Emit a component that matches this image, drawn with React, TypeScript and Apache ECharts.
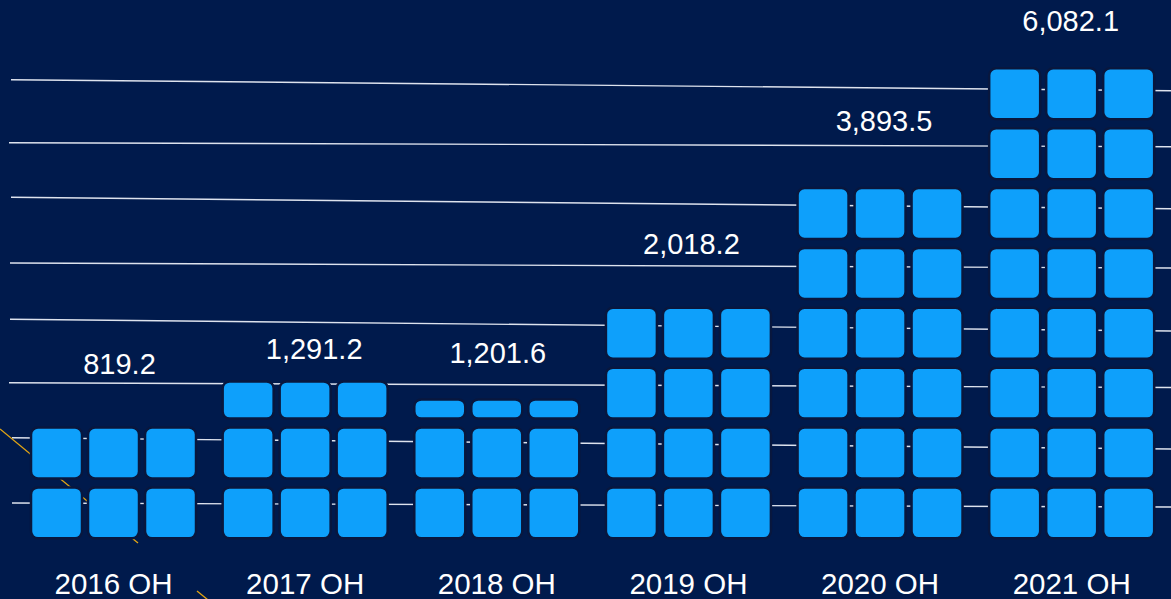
import React, { useEffect, useRef } from "react";
import * as echarts from "echarts";

const categories = ["2016 OH", "2017 OH", "2018 OH", "2019 OH", "2020 OH", "2021 OH"];
const totals = [819.2, 1291.2, 1201.6, 2018.2, 3893.5, 6082.1];
// stacked height of each column of tiles, in tile units
const tileHeights = [2, 2.77, 2.47, 4, 6, 8];

// label placement tweaks (px) relative to the top of each stack
const labelLift = [64, 32, 46, 64, 67, 47];
const labelShiftX = [6, 9, 1, 3, 4, -1];

const BG = "#001A4C";
const TILE = "#0EA0FB";
const TILE_EDGE = "#08173E";
const FONT = "'Liberation Sans', Arial, sans-serif";

const bgLines: number[][] = [
  [11, 79.7, 1171, 90.7],
  [9, 142.7, 1171, 146.7],
  [11, 197.3, 1171, 208.7],
  [10, 263, 1171, 268],
  [10, 319.3, 1171, 331],
  [9, 382.7, 1171, 387.5],
  [12, 437.7, 1171, 449],
  [12, 503, 1171, 507],
];

export default function App() {
  const ref = useRef<HTMLDivElement>(null);
  useEffect(() => {
    if (!ref.current) return;
    const chart = echarts.init(ref.current, undefined, { renderer: "svg" });
    const fmt = (v: number) =>
      v.toLocaleString("en-US", { minimumFractionDigits: 1, maximumFractionDigits: 1 });

    const graphic: any[] = bgLines.map((l) => ({
      type: "line",
      z: 0,
      silent: true,
      shape: { x1: l[0], y1: l[1], x2: l[2], y2: l[3] },
      style: { stroke: "rgba(240,244,252,0.92)", lineWidth: 1.4 },
    }));
    graphic.push({
      type: "line",
      z: 0,
      silent: true,
      shape: { x1: 0, y1: 429, x2: 138, y2: 543 },
      style: { stroke: "#E2A514", lineWidth: 1.3 },
    });
    graphic.push({
      type: "line",
      z: 0,
      silent: true,
      shape: { x1: 197, y1: 591, x2: 213, y2: 604 },
      style: { stroke: "#E2A514", lineWidth: 1.3 },
    });

    chart.setOption({
      animation: false,
      backgroundColor: BG,
      graphic,
      grid: {
        left: 17.7,
        right: 3.5,
        top: 4,
        bottom: 56.2,
        containLabel: false,
        outerBoundsMode: "none",
      },
      xAxis: {
        type: "category",
        data: categories,
        axisLine: { show: false },
        axisTick: { show: false },
        splitLine: { show: false },
        axisLabel: {
          color: "#FFFFFF",
          fontSize: 29.5,
          fontFamily: FONT,
          margin: 26,
          lineHeight: 30,
        },
      },
      yAxis: {
        type: "value",
        min: 0,
        max: 9,
        show: false,
        splitLine: { show: false },
      },
      series: [
        {
          type: "custom",
          z: 10,
          data: tileHeights.map((h, i) => [i, h]),
          renderItem: (params: any, api: any) => {
            const idx = params.dataIndex;
            const v = api.value(1);
            const cx = api.coord([idx, 0])[0];
            const children: any[] = [];
            const inset = 4.45;
            let topY = api.coord([idx, 0])[1];
            for (let n = 0; n < v; n++) {
              const frac = Math.min(1, v - n);
              const yb = api.coord([idx, n])[1];
              const yt = api.coord([idx, n + frac])[1];
              const y = yt + inset;
              const h = yb - yt - 2 * inset;
              topY = y;
              for (const c of [-1, 0, 1]) {
                children.push({
                  type: "rect",
                  shape: { x: cx + c * 57 - 25.5, y, width: 51, height: h, r: 7 },
                  style: { fill: TILE, stroke: TILE_EDGE, lineWidth: 2.5 },
                });
              }
            }
            children.push({
              type: "text",
              style: {
                text: fmt(totals[idx]),
                x: cx + labelShiftX[idx],
                y: topY - labelLift[idx],
                fill: "#FFFFFF",
                fontSize: 29,
                fontFamily: FONT,
                align: "center",
                verticalAlign: "middle",
              },
            });
            return { type: "group", children };
          },
        },
      ],
    });
    return () => chart.dispose();
  }, []);
  return (
    <div
      ref={ref}
      style={{ position: "fixed", left: 0, top: 0, width: 1171, height: 599 }}
    />
  );
}
